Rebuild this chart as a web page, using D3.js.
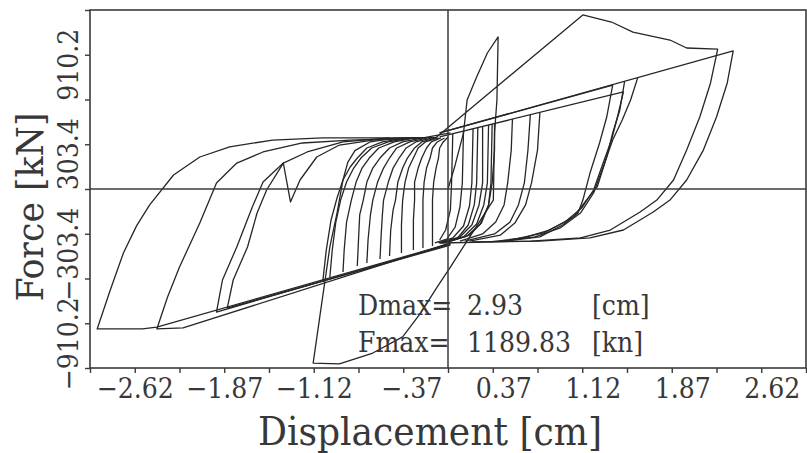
<!DOCTYPE html>
<html>
<head>
<meta charset="utf-8">
<script src="https://cdn.jsdelivr.net/npm/d3@7"></script>
<style>
  body { margin: 0; background: #fff; }
  text { font-family: "DejaVu Serif Condensed", "DejaVu Serif", serif; font-stretch: condensed; fill: #383838; }
</style>
</head>
<body>
<div id="wrapper"></div>
<script>
// tick labels
const xTickValues = [-2.625, -1.875, -1.125, -0.375, 0.375, 1.125, 1.875, 2.625]
const xTickLabels = ["−2.62", "−1.87", "−1.12", "−.37", "0.37", "1.12", "1.87", "2.62"]
const yTickValues = [-910.2, -303.4, 303.4, 910.2]
const yTickLabels = ["−910.2", "−303.4", "303.4", "910.2"]
const xStep = 0.375
const yStep = 303.4

// loops, [displacement cm, force kN]
const loopNeg1 = [[0.02,-370],[-2.44,-936],[-2.56,-949],[-2.94,-949],[-2.83,-685],[-2.72,-434],[-2.61,-250],[-2.50,-108],[-2.30,95],[-2.08,217],[-1.83,285],[-1.47,332],[-1.05,346],[-0.21,346],[0.02,380]]
const loopNeg2 = [[0.02,-366],[-2.22,-942],[-2.44,-949],[-2.35,-732],[-2.25,-529],[-2.08,-231],[-1.94,41],[-1.77,176],[-1.55,251],[-1.22,312],[-0.82,332],[-0.21,346]]
const loopNeg3 = [[0.02,-373],[-1.94,-834],[-1.89,-617],[-1.77,-393],[-1.64,-122],[-1.55,47],[-1.38,176],[-1.18,251],[-0.88,319],[-0.49,346]]
const loopNeg4 = [[0.02,-380],[-1.85,-807],[-1.80,-617],[-1.68,-393],[-1.60,-163],[-1.52,-7],[-1.38,176],[-1.32,-88],[-1.24,61],[-1.10,217],[-0.91,298],[-0.63,332],[-0.23,346]]
const loopPulse = [[0,0],[0.06,163],[0.13,380],[0.16,603],[0.24,759],[0.33,922],[0.42,1031],
  [0.41,603],[0.39,380],[0.38,-75],[0.02,-529],[-0.09,-664],[-0.23,-841],[-0.38,-1003],[-0.63,-1112],[-0.91,-1186],[-1.13,-1180],
  [-1.07,-841],[-1.03,-617],[-0.99,-393],[-0.93,-163],[-0.88,61],[-0.84,180],[-0.78,260],[-0.65,320],[-0.45,345],[-0.10,350],
  [1.13,1180],[1.37,1132],[1.55,1064],[1.86,1010],[2.00,956],[2.26,949],
  [2.20,719],[2.11,488],[2.00,264],[1.89,61],[1.75,-75],[1.61,-156],[1.36,-278],[1.11,-332],[0.69,-353],[0.20,-359]]
const loopPos1 = [[-0.07,380],[2.39,936],[2.34,719],[2.25,488],[2.14,264],[2.00,61],[1.86,-75],[1.72,-156],[1.47,-278],[1.19,-332],[0.77,-353],[-0.07,-366]]
const loopPos2 = [[-0.07,380],[1.38,704],[1.33,488],[1.27,312],[1.19,108],[1.13,-75],[1.09,-163],[0.96,-244],[0.77,-325],[0.49,-353]]
const loopPos3 = [[1.48,730],[1.44,536],[1.38,380],[1.33,217],[1.25,14],[1.16,-75],[1.05,-190],[0.85,-278],[0.63,-332],[0.35,-359]]
const loopPos4 = [[1.59,755],[1.53,603],[1.46,468],[1.38,332],[1.30,149],[1.22,-27],[1.11,-163],[0.94,-264],[0.73,-325],[0.44,-353]]
const loopPos5 = [[-0.07,353],[1.47,658],[1.42,488],[1.37,332],[1.30,176],[1.22,-7],[1.12,-129],[0.98,-224],[0.80,-298],[0.52,-346]]

// small cycles near the centre: reloading branches (left) and unloading branches (right)
const leftReversals = [
  [[-1.05,-631],[-1.02,-414],[-0.98,-210],[-0.93,-61],[-0.88,61],[-0.82,149],[-0.76,210],[-0.68,278],[-0.55,319],[-0.34,346]],
  [[-0.99,-597],[-0.97,-414],[-0.94,-224],[-0.90,-75],[-0.85,47],[-0.79,142],[-0.73,210],[-0.64,278],[-0.50,319],[-0.30,346]],
  [[-0.88,-563],[-0.87,-414],[-0.85,-224],[-0.81,-75],[-0.77,47],[-0.72,142],[-0.66,210],[-0.58,278],[-0.45,319],[-0.27,346]],
  [[-0.76,-522],[-0.75,-346],[-0.74,-176],[-0.71,-75],[-0.68,47],[-0.63,142],[-0.57,210],[-0.49,278],[-0.38,319],[-0.21,346]],
  [[-0.68,-502],[-0.67,-346],[-0.65,-176],[-0.63,-75],[-0.59,47],[-0.54,142],[-0.49,210],[-0.43,278],[-0.32,319],[-0.17,346]],
  [[-0.57,-475],[-0.56,-312],[-0.55,-176],[-0.54,-75],[-0.50,47],[-0.46,142],[-0.41,210],[-0.35,278],[-0.27,319],[-0.13,346]],
  [[-0.49,-454],[-0.48,-278],[-0.46,-142],[-0.44,-75],[-0.42,47],[-0.38,142],[-0.34,210],[-0.28,278],[-0.22,319],[-0.10,346]],
  [[-0.39,-434],[-0.39,-244],[-0.38,-75],[-0.36,47],[-0.33,142],[-0.29,210],[-0.25,278],[-0.19,319],[-0.08,346]],
  [[-0.29,-414],[-0.29,-210],[-0.28,-75],[-0.28,47],[-0.25,142],[-0.22,210],[-0.18,278],[-0.14,319],[-0.06,346]],
  [[-0.21,-400],[-0.21,-75],[-0.20,47],[-0.18,142],[-0.15,210],[-0.13,278],[-0.09,319],[-0.03,346]],
  [[-0.13,-387],[-0.13,-75],[-0.12,47],[-0.10,142],[-0.08,210],[-0.07,278],[-0.04,319],[0.00,353]],
]
const rightReversals = [
  [[0.77,519],[0.75,264],[0.70,41],[0.65,-108],[0.56,-231],[0.44,-312],[0.18,-353]],
  [[0.69,504],[0.67,264],[0.64,41],[0.59,-108],[0.52,-224],[0.39,-305],[0.14,-353]],
  [[0.54,474],[0.53,264],[0.50,41],[0.47,-108],[0.40,-224],[0.29,-305],[0.10,-353]],
  [[0.39,444],[0.39,264],[0.37,41],[0.34,-108],[0.28,-231],[0.18,-312],[0.02,-353]],
  [[0.37,440],[0.36,41],[0.34,-108],[0.27,-237],[0.16,-319],[0.00,-359]],
  [[0.34,434],[0.33,41],[0.30,-108],[0.24,-237],[0.13,-325],[-0.03,-359]],
  [[0.29,424],[0.29,41],[0.26,-108],[0.20,-244],[0.10,-325],[-0.05,-366]],
  [[0.25,417],[0.24,41],[0.22,-108],[0.17,-244],[0.08,-332],[-0.07,-366]],
  [[0.21,409],[0.20,41],[0.18,-115],[0.13,-251],[0.04,-332],[-0.08,-366]],
  [[0.13,393],[0.12,41],[0.10,-122],[0.06,-258],[-0.01,-339],[-0.11,-366]],
  [[0.04,375],[0.03,41],[0.02,-142],[-0.02,-278],[-0.07,-346]],
]

const summaryLabels = [["Dmax=", "2.93", "[cm]"], ["Fmax=", "1189.83", "[kn]"]]

async function drawChart() {

// 1. Dimensions
  let dimensions = {
    width: 807,
    height: 453,
    margin: { top: 10, right: 1, bottom: 85, left: 90 },
  }
  dimensions.boundedWidth = dimensions.width - dimensions.margin.left - dimensions.margin.right
  dimensions.boundedHeight = dimensions.height - dimensions.margin.top - dimensions.margin.bottom

// 2. Canvas
  const wrapper = d3.select("#wrapper")
    .append("svg")
      .attr("width", dimensions.width)
      .attr("height", dimensions.height)

  const bounds = wrapper.append("g")
      .attr("transform", `translate(${dimensions.margin.left}, ${dimensions.margin.top})`)

// 3. Scales
  const xScale = d3.scaleLinear()
    .domain([-8 * xStep, 8 * xStep])
    .range([0, dimensions.boundedWidth])

  const yScale = d3.scaleLinear()
    .domain([-4 * yStep, 4 * yStep])
    .range([dimensions.boundedHeight, 0])

// 4. Data
  const lineGenerator = d3.line()
    .x(d => xScale(d[0]))
    .y(d => yScale(d[1]))

  const allLoops = [loopNeg1, loopNeg2, loopNeg3, loopNeg4, loopPulse,
    loopPos1, loopPos2, loopPos3, loopPos4, loopPos5,
    ...leftReversals, ...rightReversals]

  bounds.selectAll(".loop")
    .data(allLoops)
    .join("path")
      .attr("class", "loop")
      .attr("d", lineGenerator)
      .attr("fill", "none")
      .attr("stroke", "#262626")
      .attr("stroke-width", 1.3)
      .attr("stroke-linejoin", "round")

// 5. Peripherals
  const axisColor = "#3a3a3a"

  bounds.append("line")
      .attr("x1", 0).attr("x2", dimensions.boundedWidth)
      .attr("y1", yScale(0)).attr("y2", yScale(0))
      .attr("stroke", axisColor).attr("stroke-width", 1.5)
  bounds.append("line")
      .attr("x1", xScale(0)).attr("x2", xScale(0))
      .attr("y1", 0).attr("y2", dimensions.boundedHeight)
      .attr("stroke", axisColor).attr("stroke-width", 1.5)

  bounds.append("rect")
      .attr("width", dimensions.boundedWidth)
      .attr("height", dimensions.boundedHeight)
      .attr("fill", "none")
      .attr("stroke", axisColor)
      .attr("stroke-width", 1.6)

  const xAxisGenerator = d3.axisBottom(xScale)
    .tickValues(d3.range(-8, 9).map(i => i * xStep))
    .tickSize(5)
    .tickSizeOuter(0)
    .tickFormat("")
  const xAxis = bounds.append("g")
      .attr("transform", `translate(0, ${dimensions.boundedHeight})`)
      .call(xAxisGenerator)
  xAxis.select(".domain").remove()
  xAxis.selectAll(".tick line").attr("stroke", axisColor).attr("stroke-width", 1.4)

  const yAxisGenerator = d3.axisLeft(yScale)
    .tickValues(d3.range(-4, 5).map(i => i * yStep))
    .tickSize(5)
    .tickSizeOuter(0)
    .tickFormat("")
  const yAxis = bounds.append("g").call(yAxisGenerator)
  yAxis.select(".domain").remove()
  yAxis.selectAll(".tick line").attr("stroke", axisColor).attr("stroke-width", 1.4)

  // tick labels sit a little off their ticks, as in the original plot
  bounds.selectAll(".x-label")
    .data(xTickValues)
    .join("text")
      .attr("class", "x-label")
      .attr("x", d => xScale(d) + 39)
      .attr("y", dimensions.boundedHeight + 30)
      .attr("text-anchor", "end")
      .style("font-size", "28px")
      .text((d, i) => xTickLabels[i])

  bounds.selectAll(".y-label")
    .data(yTickValues)
    .join("text")
      .attr("class", "y-label")
      .attr("transform", d => `translate(-12, ${yScale(d) - 26}) rotate(-90)`)
      .attr("text-anchor", "end")
      .style("font-size", "28px")
      .text((d, i) => yTickLabels[i])

  wrapper.append("text")
      .attr("x", 430)
      .attr("y", 445)
      .attr("text-anchor", "middle")
      .attr("textLength", 344)
      .attr("lengthAdjust", "spacingAndGlyphs")
      .style("font-size", "39px")
      .text("Displacement [cm]")

  wrapper.append("text")
      .attr("transform", "translate(43, 207) rotate(-90)")
      .attr("text-anchor", "middle")
      .attr("textLength", 189)
      .attr("lengthAdjust", "spacingAndGlyphs")
      .style("font-size", "38px")
      .text("Force [kN]")

  const summaryX = [358, 467, 592]
  const summaryY = [315, 352]
  summaryLabels.forEach((row, r) => {
    row.forEach((t, c) => {
      wrapper.append("text")
          .attr("x", summaryX[c])
          .attr("y", summaryY[r])
          .style("font-size", "28px")
          .text(t)
    })
  })
}

drawChart()
</script>
</body>
</html>
